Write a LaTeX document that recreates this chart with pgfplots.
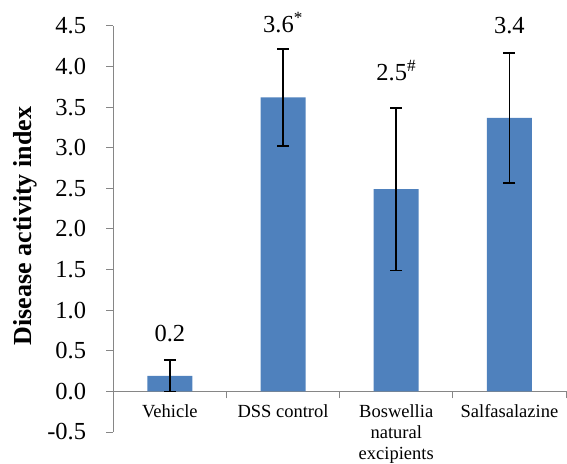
\documentclass[border=0pt]{standalone}
\usepackage{fontspec}
\setmainfont{LiberationSerif}[Extension=.ttf, UprightFont=*-Regular, BoldFont=*-Bold, ItalicFont=*-Italic, BoldItalicFont=*-BoldItalic]
\usepackage{pgfplots}
\pgfplotsset{compat=1.18}
\definecolor{barblue}{HTML}{4F81BD}
\definecolor{axgray}{HTML}{868686}
\begin{document}
\begin{tikzpicture}
\begin{axis}[
  at={(113.3pt,31pt)}, anchor=south west,
  scale only axis, width=452.7pt, height=406pt,
  xmin=-0.5, xmax=3.5, ymin=-0.5, ymax=4.5,
  axis y line*=left, axis x line*=middle,
  hide obscured y ticks=false,
  axis line style={draw=axgray, line width=1pt},
  tick align=outside,
  major tick length=7pt,
  tick style={draw=axgray, line width=1pt},
  ytick={-0.5,0,0.5,1,1.5,2,2.5,3,3.5,4,4.5},
  yticklabels={-0.5,0.0,0.5,1.0,1.5,2.0,2.5,3.0,3.5,4.0,4.5},
  yticklabel style={font=\fontsize{24.5}{30}\selectfont, inner sep=0pt, xshift=-20pt},
  xtick={0.5,1.5,2.5,3.5}, xticklabels={},
  extra x ticks={0,1,2,3},
  extra x tick labels={Vehicle, DSS control, {Boswellia\\natural\\excipients}, Salfasalazine},
  extra x tick style={major tick length=0pt,
    xticklabel style={align=center, font=\fontsize{18.5}{21}\selectfont, anchor=north, inner sep=0pt, yshift=-13pt}},
  ybar, bar width=45pt,
  clip=false,
]
\addplot[ybar, fill=barblue, draw=none,
  error bars/.cd, y dir=both, y explicit,
  error bar style={line width=1.6pt, black},
  error mark options={rotate=90, line width=1.6pt, black, mark size=6pt}]
coordinates {
  (0,0.19) += (0,0.20) -= (0,0.19)
  (1,3.62) += (0,0.60) -= (0,0.60)
  (2,2.49) += (0,1.00) -= (0,1.00)
  (3,3.37) += (0,0.80) -= (0,0.80)
};
\node[anchor=base, font=\fontsize{24.5}{30}\selectfont] at (axis cs:0,0.616) {0.2};
\node[anchor=base, font=\fontsize{24.5}{30}\selectfont] at (axis cs:1,4.425) {3.6\textsuperscript{*}};
\node[anchor=base, font=\fontsize{24.5}{30}\selectfont] at (axis cs:2,3.83) {2.5\textsuperscript{\#}};
\node[anchor=base, font=\fontsize{24.5}{30}\selectfont] at (axis cs:3,4.41) {3.4};
\end{axis}
\node[rotate=90, font=\bfseries\fontsize{26}{30}\selectfont] at (25pt,237pt) {Disease activity index};
\pgfresetboundingbox
\path[use as bounding box] (0,0) rectangle (567pt,463pt);
\end{tikzpicture}
\end{document}
